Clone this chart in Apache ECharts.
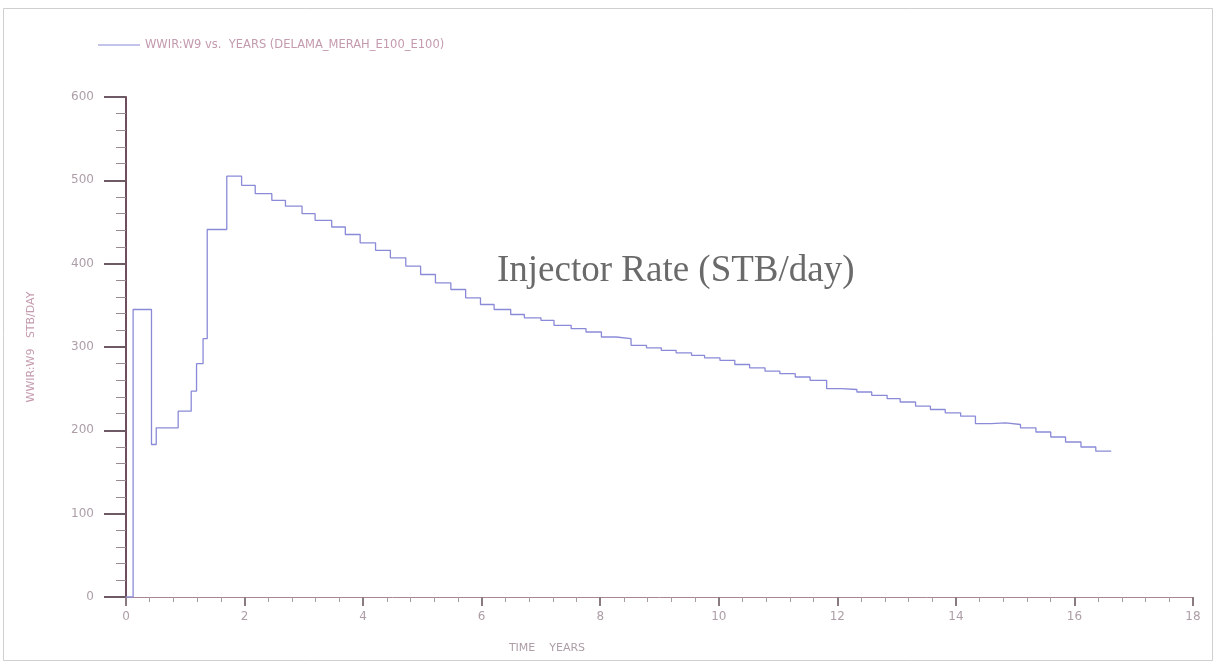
<!DOCTYPE html>
<html>
<head>
<meta charset="utf-8">
<title>WWIR:W9 vs. YEARS</title>
<script src="https://cdn.jsdelivr.net/npm/echarts@6/dist/echarts.min.js"></script>
<style>
  html, body { margin: 0; padding: 0; background: #ffffff; }
  #chart { width: 1217px; height: 664px; }
</style>
</head>
<body>
<div id="chart"></div>
<script>
// Water injection rate of well W9 (STB/day); each rate holds from its time until the next one.
const times = [
  0.00, 0.12, 0.43, 0.51, 0.88, 1.10, 1.19, 1.30, 1.37, 1.70,
  1.95, 2.18, 2.46, 2.69, 2.97, 3.19, 3.47, 3.70, 3.95, 4.21,
  4.46, 4.72, 4.97, 5.22, 5.48, 5.73, 5.98, 6.21, 6.49, 6.72,
  7.00, 7.22, 7.51, 7.76, 8.02, 8.27, 8.52, 8.78, 9.03, 9.28,
  9.54, 9.76, 10.02, 10.27, 10.52, 10.78, 11.03, 11.29, 11.54, 11.82,
  12.07, 12.33, 12.58, 12.84, 13.06, 13.32, 13.57, 13.82, 14.08, 14.33,
  14.59, 14.84, 15.09, 15.35, 15.60, 15.85, 16.11, 16.36, 16.62
];
const rates = [
  0, 345, 183, 203, 223, 247, 280, 310, 441, 505,
  494, 484, 476, 469, 460, 452, 444, 435, 425, 416,
  407, 397, 387, 377, 369, 359, 351, 345, 339, 335,
  332, 326, 322, 318, 312, 310, 302, 299, 296, 293,
  290, 287, 284, 279, 275, 271, 268, 264, 260, 250,
  249, 246, 242, 238, 234, 229, 225, 221, 217, 208,
  209, 207, 203, 198, 192, 186, 180, 175, 175
];

const yTicks = [0, 100, 200, 300, 400, 500, 600];
const xTicks = [0, 2, 4, 6, 8, 10, 12, 14, 16, 18];

const seriesName = 'WWIR:W9 vs.  YEARS (DELAMA_MERAH_E100_E100)';
const yAxisName = 'WWIR:W9   STB/DAY';
const xAxisName = 'TIME    YEARS';
const noteText = 'Injector Rate (STB/day)';

const points = times.map((t, i) => [t, rates[i]]);

const labelColor = '#ad9ea7';
const chart = echarts.init(document.getElementById('chart'), null, { renderer: 'canvas' });

chart.setOption({
  backgroundColor: '#ffffff',
  animation: false,
  textStyle: { fontFamily: 'DejaVu Sans' },
  grid: { left: 126, right: 24, top: 97, bottom: 67, containLabel: false },
  legend: {
    left: 93,
    top: 34,
    icon: 'rect',
    itemWidth: 42,
    itemHeight: 1,
    itemGap: 4,
    textStyle: { color: '#c49aae', fontSize: 11.5, fontFamily: 'DejaVu Sans' },
    data: [seriesName]
  },
  xAxis: {
    type: 'value',
    min: xTicks[0],
    max: xTicks[xTicks.length - 1],
    interval: 2,
    name: xAxisName,
    nameLocation: 'middle',
    nameGap: 46,
    nameTextStyle: { color: labelColor, fontSize: 11, padding: [0, 225, 0, 0] },
    axisLine: { show: true, onZero: false, lineStyle: { color: '#a88890', width: 1 } },
    axisTick: { show: true, inside: false, length: 9, lineStyle: { color: '#8a7a82', width: 2 } },
    minorTick: { show: true, splitNumber: 5, length: 5, lineStyle: { color: '#a89aa2', width: 1 } },
    axisLabel: { color: labelColor, fontSize: 12, margin: 14 },
    splitLine: { show: false }
  },
  yAxis: {
    type: 'value',
    min: yTicks[0],
    max: yTicks[yTicks.length - 1],
    interval: 100,
    name: yAxisName,
    nameLocation: 'middle',
    nameGap: 89,
    nameRotate: 90,
    nameTextStyle: { color: '#c49aae', fontSize: 11 },
    axisLine: { show: true, onZero: false, lineStyle: { color: '#6e4e5e', width: 2 } },
    axisTick: { show: true, inside: false, length: 22, lineStyle: { color: '#6e5a64', width: 2 } },
    minorTick: { show: true, splitNumber: 5, length: 10, lineStyle: { color: '#9a8a92', width: 1 } },
    axisLabel: { color: labelColor, fontSize: 12, margin: 32 },
    splitLine: { show: false }
  },
  series: [{
    name: seriesName,
    type: 'line',
    step: 'end',
    data: points,
    showSymbol: false,
    symbol: 'none',
    lineStyle: { color: '#8a8ad8', width: 1.3 },
    itemStyle: { color: '#8a8ad8' }
  }],
  graphic: [
    {
      type: 'rect',
      shape: { x: 3.5, y: 8.5, width: 1209, height: 652 },
      style: { fill: 'none', stroke: '#cfcfcf', lineWidth: 1 },
      silent: true,
      z: -1
    },
    {
      type: 'text',
      left: 497,
      top: 253,
      style: {
        text: noteText,
        fill: '#6a6a6a',
        font: '37px "Liberation Serif", "DejaVu Serif", serif'
      },
      silent: true
    }
  ]
});
</script>
</body>
</html>
